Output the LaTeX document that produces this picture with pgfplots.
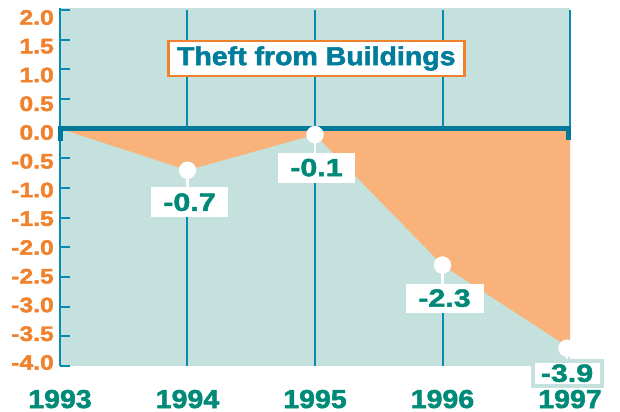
\documentclass[border=0pt]{standalone}
\usepackage{fontspec}
\usepackage{pgfplots}
\pgfplotsset{compat=1.18}
\setmainfont{Liberation Sans}
\newfontfamily\yfont{Liberation Sans}[FakeStretch=1.18, FakeBold=2]
\newfontfamily\vfont{Liberation Sans}[FakeStretch=1.22, FakeBold=2]
\newfontfamily\tfont{Liberation Sans}[FakeStretch=1.1, FakeBold=2]
\definecolor{bg}{RGB}{197,225,221}
\definecolor{fillor}{RGB}{249,178,122}
\definecolor{gridb}{RGB}{10,138,178}
\definecolor{zerob}{RGB}{0,122,152}
\definecolor{ylab}{RGB}{240,130,45}
\definecolor{xlab}{RGB}{0,138,120}
\definecolor{titleb}{RGB}{0,125,155}
\definecolor{vlab}{RGB}{0,137,118}
\begin{document}
\begin{tikzpicture}
\begin{axis}[
  scale only axis, width=510bp, height=358bp,
  xmin=0, xmax=4, ymin=-4, ymax=2.034,
  clip=false,
  axis background/.style={fill=bg},
  axis line style={draw=none},
  xtick={0,1,2,3,4},
  xticklabels={1993,1994,1995,1996,1997},
  xtick style={draw=none},
  xticklabel style={anchor=base, inner sep=0pt, yshift=-42bp, text=xlab,
    font=\tfont\bfseries\fontsize{26}{26}\selectfont},
  ytick={-4,-3.5,-3,-2.5,-2,-1.5,-1,-0.5,0,0.5,1,1.5,2},
  yticklabels={-4.0,-3.5,-3.0,-2.5,-2.0,-1.5,-1.0,-0.5,0.0,0.5,1.0,1.5,2.0},
  ytick pos=left,
  tick align=inside,
  major tick length=10bp,
  ytick style={draw=gridb, line width=2bp},
  yticklabel style={anchor=east, inner sep=0pt, xshift=-6bp,
    yshift={3.5bp-0.9167bp*\ticknum}, text=ylab,
    font=\yfont\bfseries\fontsize{21}{21}\selectfont},
]
% vertical grid lines
\draw[gridb, line width=2bp] (axis cs:1,-4) -- (axis cs:1,2);
\draw[gridb, line width=2bp] (axis cs:2,-4) -- (axis cs:2,2);
\draw[gridb, line width=2bp] (axis cs:3,-4) -- (axis cs:3,2);
\draw[gridb, line width=2.5bp] (axis cs:4,0) -- (axis cs:4,2);
% filled area
\addplot[fill=fillor, draw=none] coordinates {(0,0) (1,-0.7) (2,-0.1) (3,-2.3) (4,-3.7) (4,0)} -- cycle;
% left axis line and zero line
\draw[gridb, line width=2.5bp] (axis cs:0,-4) -- (axis cs:0,2.034);
\draw[zerob, line width=5bp] (axis cs:0,0) -- (axis cs:4,0);
\fill[zerob] ([xshift=-2bp,yshift=2.5bp]axis cs:0,0) rectangle ([xshift=3bp,yshift=-12.5bp]axis cs:0,0);
\fill[zerob] ([xshift=-4bp,yshift=2.5bp]axis cs:4,0) rectangle ([xshift=1bp,yshift=-11.5bp]axis cs:4,0);
% stems
\draw[white, line width=2.5bp] (axis cs:1,-0.7) -- ([yshift=-22bp]axis cs:1,-0.7);
\draw[white, line width=2.5bp] (axis cs:2,-0.1) -- ([yshift=-22bp]axis cs:2,-0.1);
\draw[white, line width=2.5bp] (axis cs:3,-2.3) -- ([yshift=-22bp]axis cs:3,-2.3);
\draw[white, line width=2.5bp] ([xshift=-3bp]axis cs:4,-3.7) -- ([xshift=-3bp,yshift=-14bp]axis cs:4,-3.7);
% markers
\addplot[only marks, mark=*, mark size=8.5bp, white, mark options={fill=white, draw=white}] coordinates {(1,-0.7) (2,-0.1) (3,-2.3)};
\addplot[only marks, mark=*, mark size=8.5bp, white, mark options={fill=white, draw=white, xshift=-3bp}] coordinates {(4,-3.7)};
% value labels
\node[fill=white, minimum width=77bp, minimum height=30bp, inner sep=0pt, text=vlab,
  font=\vfont\bfseries\fontsize{25}{25}\selectfont, xshift=2bp, yshift=-32bp] at (axis cs:1,-0.7) {-0.7};
\node[fill=white, minimum width=77bp, minimum height=30bp, inner sep=0pt, text=vlab,
  font=\vfont\bfseries\fontsize{25}{25}\selectfont, xshift=1.5bp, yshift=-33bp] at (axis cs:2,-0.1) {-0.1};
\node[fill=white, minimum width=78bp, minimum height=29bp, inner sep=0pt, text=vlab,
  font=\vfont\bfseries\fontsize{25}{25}\selectfont, xshift=2bp, yshift=-33bp] at (axis cs:3,-2.3) {-2.3};
\node[fill=white, draw=bg, line width=4bp, minimum width=69bp, minimum height=25bp, inner sep=0pt, text=vlab,
  font=\vfont\bfseries\fontsize{25}{25}\selectfont, xshift=-3bp, yshift=-25bp] at (axis cs:4,-3.7) {-3.9};
% title
\node[draw=ylab, line width=2.5bp, fill=white, minimum width=296bp, minimum height=35bp, inner sep=0pt, text=titleb,
  font=\tfont\bfseries\fontsize{26}{26}\selectfont] at (axis cs:2.01,1.183) {Theft from Buildings};
\end{axis}
\pgfresetboundingbox
\path (-60bp,-46bp) rectangle (560bp,366bp);
\end{tikzpicture}
\end{document}
